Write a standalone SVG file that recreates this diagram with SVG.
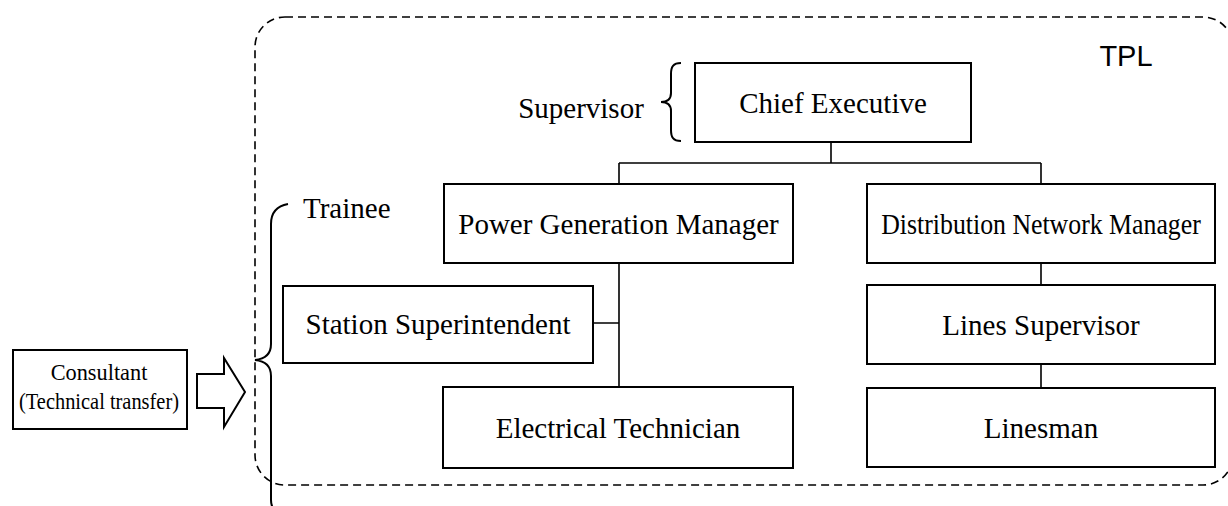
<svg xmlns="http://www.w3.org/2000/svg" width="1228" height="506" viewBox="0 0 1228 506">
<style>
.box{fill:#fff;stroke:#000;stroke-width:2}
.t{font-family:"Liberation Serif","Times New Roman",serif;font-size:29px;fill:#000;text-anchor:middle}
.s{text-anchor:start}
.c{fill:none;stroke:#000;stroke-width:1.6}
.br{fill:none;stroke:#000;stroke-width:2}
</style>
<rect width="1228" height="506" fill="#fff"/>
<g id="tpl-boundary">
<rect x="255" y="17" width="978" height="468" rx="30" ry="30" fill="none" stroke="#000" stroke-width="1.6" stroke-dasharray="8,5"/>
<text x="1126" y="66" style="font-family:'Liberation Sans',Arial,sans-serif;font-size:29px" text-anchor="middle">TPL</text>
</g>
<g id="connectors">
<path class="c" d="M831 142 V163 M619 163 H1041 M619 163 V184 M1041 163 V184"/>
<path class="c" d="M619 263 V387 M593 323 H619"/>
<path class="c" d="M1041 263 V285 M1041 364 V388"/>
</g>
<g id="supervisor-label">
<text class="t" x="581" y="118">Supervisor</text>
<path class="br" d="M681 63 C673 63 671 67 671 74 V93 C671 99 667 102 661 102 C667 102 671 105 671 111 V130 C671 137 673 141 681 141"/>
</g>
<g id="trainee-label">
<text class="t s" x="303" y="218">Trainee</text>
<path class="br" d="M288 204 C277 206 271 212 271 224 V344 C271 354 265 359 255 360 C265 361 271 366 271 376 V500 C271 510 277 514 288 516"/>
</g>
<g id="chief-executive">
<rect class="box" x="695" y="63" width="276" height="79"/>
<text class="t" x="833" y="113">Chief Executive</text>
</g>
<g id="power-generation-manager">
<rect class="box" x="444" y="184" width="349" height="79"/>
<text class="t" x="618.5" y="234">Power Generation Manager</text>
</g>
<g id="distribution-network-manager">
<rect class="box" x="867" y="184" width="348" height="79"/>
<text class="t" transform="translate(1041 234) scale(0.89 1)" x="0" y="0">Distribution Network Manager</text>
</g>
<g id="station-superintendent">
<rect class="box" x="283" y="286" width="310" height="77"/>
<text class="t" x="438" y="334">Station Superintendent</text>
</g>
<g id="lines-supervisor">
<rect class="box" x="867" y="285" width="348" height="79"/>
<text class="t" x="1041" y="335">Lines Supervisor</text>
</g>
<g id="electrical-technician">
<rect class="box" x="443" y="387" width="350" height="81"/>
<text class="t" x="618" y="438">Electrical Technician</text>
</g>
<g id="linesman">
<rect class="box" x="867" y="388" width="348" height="79"/>
<text class="t" x="1041" y="438">Linesman</text>
</g>
<g id="consultant">
<rect class="box" x="13" y="350" width="174" height="79"/>
<text class="t" transform="translate(99 380) scale(0.93 1)" x="0" y="0" style="font-size:24px">Consultant</text>
<text class="t" transform="translate(99 409) scale(0.85 1)" x="0" y="0" style="font-size:24px">(Technical transfer)</text>
</g>
<g id="transfer-arrow">
<polygon points="197,374 224,374 224,358 245,392 224,427 224,408 197,408" fill="#fff" stroke="#000" stroke-width="2" stroke-linejoin="miter"/>
</g>
</svg>
